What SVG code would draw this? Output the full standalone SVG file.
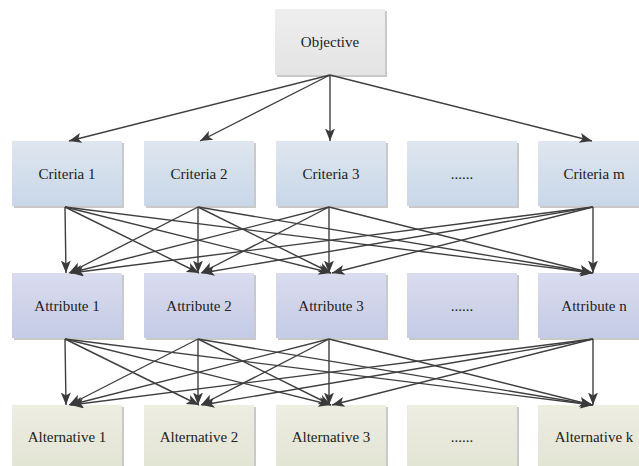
<svg xmlns="http://www.w3.org/2000/svg" width="639" height="466" viewBox="0 0 639 466" font-family="'Liberation Serif', 'Times New Roman', Times, serif">
  <style>
    text { font-family: 'Liberation Serif', 'Times New Roman', Times, serif; }
    .lbl { font-size: 15px; fill: #222; text-anchor: middle; }
    .shadow { fill: #c9c9c9; }
    .edge { stroke: #3f3f3f; stroke-width: 1.4; fill: none; marker-end: url(#arrow); }
  </style>
  <defs>
    <linearGradient id="gObj" x1="0" y1="0" x2="0" y2="1">
      <stop offset="0" stop-color="#eeeeee"/>
      <stop offset="1" stop-color="#e4e4e4"/>
    </linearGradient>
    <linearGradient id="gCri" x1="0" y1="0" x2="0" y2="1">
      <stop offset="0" stop-color="#dfe6ef"/>
      <stop offset="1" stop-color="#c8d7e8"/>
    </linearGradient>
    <linearGradient id="gAtt" x1="0" y1="0" x2="0" y2="1">
      <stop offset="0" stop-color="#dadcee"/>
      <stop offset="1" stop-color="#c4cbe6"/>
    </linearGradient>
    <linearGradient id="gAlt" x1="0" y1="0" x2="0" y2="1">
      <stop offset="0" stop-color="#edede2"/>
      <stop offset="1" stop-color="#e2e4d3"/>
    </linearGradient>
    <marker id="arrow" markerUnits="userSpaceOnUse" markerWidth="14" markerHeight="11" refX="12.5" refY="5" orient="auto">
      <path d="M0,0 L12.5,5 L0,10 L3,5 z" fill="#3a3a3a"/>
    </marker>
  </defs>

  <!-- Objective -->
  <g id="objective">
    <rect class="shadow" x="277" y="11" width="110" height="66"/>
    <rect x="275" y="9" width="110" height="66" fill="url(#gObj)"/>
    <text class="lbl" x="330" y="47">Objective</text>
  </g>

  <!-- Criteria row -->
  <g id="criteria-1">
    <rect class="shadow" x="14" y="143" width="110" height="65"/>
    <rect x="12" y="141" width="110" height="65" fill="url(#gCri)"/>
    <text class="lbl" x="67" y="178.5">Criteria 1</text>
  </g>
  <g id="criteria-2">
    <rect class="shadow" x="146" y="143" width="110" height="65"/>
    <rect x="144" y="141" width="110" height="65" fill="url(#gCri)"/>
    <text class="lbl" x="199" y="178.5">Criteria 2</text>
  </g>
  <g id="criteria-3">
    <rect class="shadow" x="278" y="143" width="110" height="65"/>
    <rect x="276" y="141" width="110" height="65" fill="url(#gCri)"/>
    <text class="lbl" x="331" y="178.5">Criteria 3</text>
  </g>
  <g id="criteria-dots">
    <rect class="shadow" x="409" y="143" width="110" height="65"/>
    <rect x="407" y="141" width="110" height="65" fill="url(#gCri)"/>
    <text class="lbl" x="462" y="178.5">......</text>
  </g>
  <g id="criteria-m">
    <rect class="shadow" x="540" y="143" width="110" height="65"/>
    <rect x="538" y="141" width="110" height="65" fill="url(#gCri)"/>
    <text class="lbl" x="594" y="178.5">Criteria m</text>
  </g>

  <!-- Attribute row -->
  <g id="attribute-1">
    <rect class="shadow" x="14" y="275" width="110" height="65"/>
    <rect x="12" y="273" width="110" height="65" fill="url(#gAtt)"/>
    <text class="lbl" x="67" y="310.5">Attribute 1</text>
  </g>
  <g id="attribute-2">
    <rect class="shadow" x="146" y="275" width="110" height="65"/>
    <rect x="144" y="273" width="110" height="65" fill="url(#gAtt)"/>
    <text class="lbl" x="199" y="310.5">Attribute 2</text>
  </g>
  <g id="attribute-3">
    <rect class="shadow" x="278" y="275" width="110" height="65"/>
    <rect x="276" y="273" width="110" height="65" fill="url(#gAtt)"/>
    <text class="lbl" x="331" y="310.5">Attribute 3</text>
  </g>
  <g id="attribute-dots">
    <rect class="shadow" x="409" y="275" width="110" height="65"/>
    <rect x="407" y="273" width="110" height="65" fill="url(#gAtt)"/>
    <text class="lbl" x="462" y="310.5">......</text>
  </g>
  <g id="attribute-n">
    <rect class="shadow" x="540" y="275" width="110" height="65"/>
    <rect x="538" y="273" width="110" height="65" fill="url(#gAtt)"/>
    <text class="lbl" x="594" y="310.5">Attribute n</text>
  </g>

  <!-- Alternative row -->
  <g id="alternative-1">
    <rect class="shadow" x="14" y="407" width="110" height="65"/>
    <rect x="12" y="405" width="110" height="65" fill="url(#gAlt)"/>
    <text class="lbl" x="67" y="442">Alternative 1</text>
  </g>
  <g id="alternative-2">
    <rect class="shadow" x="146" y="407" width="110" height="65"/>
    <rect x="144" y="405" width="110" height="65" fill="url(#gAlt)"/>
    <text class="lbl" x="199" y="442">Alternative 2</text>
  </g>
  <g id="alternative-3">
    <rect class="shadow" x="278" y="407" width="110" height="65"/>
    <rect x="276" y="405" width="110" height="65" fill="url(#gAlt)"/>
    <text class="lbl" x="331" y="442">Alternative 3</text>
  </g>
  <g id="alternative-dots">
    <rect class="shadow" x="409" y="407" width="110" height="65"/>
    <rect x="407" y="405" width="110" height="65" fill="url(#gAlt)"/>
    <text class="lbl" x="462" y="442">......</text>
  </g>
  <g id="alternative-k">
    <rect class="shadow" x="540" y="407" width="110" height="65"/>
    <rect x="538" y="405" width="110" height="65" fill="url(#gAlt)"/>
    <text class="lbl" x="594" y="442">Alternative k</text>
  </g>

  <!-- Connectors -->
  <g id="connectors">
    <!-- objective to criteria -->
    <line class="edge" x1="330" y1="75" x2="69" y2="141"/>
    <line class="edge" x1="330" y1="75" x2="200" y2="141"/>
    <line class="edge" x1="330" y1="75" x2="330" y2="141"/>
    <line class="edge" x1="330" y1="75" x2="592" y2="141"/>

    <!-- criteria to attributes -->
    <line class="edge" x1="65" y1="207" x2="66" y2="273"/>
    <line class="edge" x1="65" y1="207" x2="199" y2="273"/>
    <line class="edge" x1="65" y1="207" x2="331" y2="273"/>
    <line class="edge" x1="65" y1="207" x2="593" y2="273"/>

    <line class="edge" x1="198" y1="207" x2="69" y2="273"/>
    <line class="edge" x1="198" y1="207" x2="198" y2="273"/>
    <line class="edge" x1="198" y1="207" x2="331" y2="273"/>
    <line class="edge" x1="198" y1="207" x2="593" y2="273"/>

    <line class="edge" x1="329" y1="207" x2="70" y2="273"/>
    <line class="edge" x1="329" y1="207" x2="201" y2="273"/>
    <line class="edge" x1="329" y1="207" x2="329" y2="273"/>
    <line class="edge" x1="329" y1="207" x2="592" y2="273"/>

    <line class="edge" x1="593" y1="207" x2="71" y2="273"/>
    <line class="edge" x1="593" y1="207" x2="202" y2="273"/>
    <line class="edge" x1="593" y1="207" x2="332" y2="273"/>
    <line class="edge" x1="593" y1="207" x2="593" y2="273"/>

    <!-- attributes to alternatives -->
    <line class="edge" x1="65" y1="339" x2="66" y2="405"/>
    <line class="edge" x1="65" y1="339" x2="199" y2="405"/>
    <line class="edge" x1="65" y1="339" x2="331" y2="405"/>
    <line class="edge" x1="65" y1="339" x2="593" y2="405"/>

    <line class="edge" x1="198" y1="339" x2="69" y2="405"/>
    <line class="edge" x1="198" y1="339" x2="198" y2="405"/>
    <line class="edge" x1="198" y1="339" x2="331" y2="405"/>
    <line class="edge" x1="198" y1="339" x2="593" y2="405"/>

    <line class="edge" x1="329" y1="339" x2="70" y2="405"/>
    <line class="edge" x1="329" y1="339" x2="201" y2="405"/>
    <line class="edge" x1="329" y1="339" x2="329" y2="405"/>
    <line class="edge" x1="329" y1="339" x2="592" y2="405"/>

    <line class="edge" x1="593" y1="339" x2="71" y2="405"/>
    <line class="edge" x1="593" y1="339" x2="202" y2="405"/>
    <line class="edge" x1="593" y1="339" x2="332" y2="405"/>
    <line class="edge" x1="593" y1="339" x2="593" y2="405"/>
  </g>
</svg>
